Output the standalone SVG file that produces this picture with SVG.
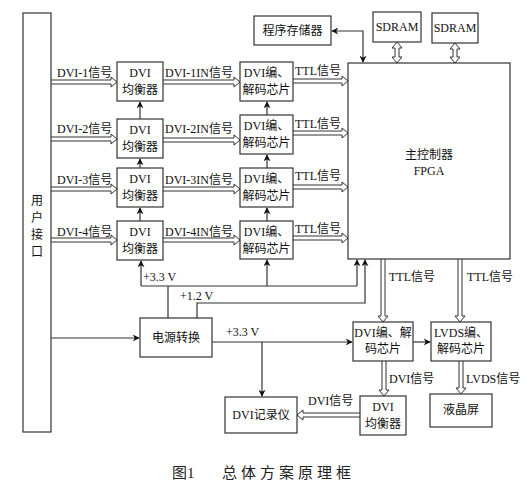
<svg xmlns="http://www.w3.org/2000/svg" width="529" height="492" viewBox="0 0 529 492">
<defs>
<marker id="ah" viewBox="0 0 10 10" refX="9" refY="5" markerWidth="7" markerHeight="7" orient="auto-start-reverse" markerUnits="userSpaceOnUse">
<path d="M0,0 L10,5 L0,10 L3,5 Z" fill="#111"/>
</marker>
</defs>
<style>
.box{fill:#fff;stroke:#333;stroke-width:1.2}
.ln{fill:none;stroke:#333;stroke-width:1.2}
.ha{fill:none;stroke:#333;stroke-width:1}
.hb{fill:#fff;stroke:#333;stroke-width:1}
text{font-family:"Liberation Serif","Noto Sans CJK SC",serif;font-size:12px;fill:#111}
.c{text-anchor:middle}
.cap{font-size:15px;fill:#222}
.sp{letter-spacing:4px}
</style>
<rect width="529" height="492" fill="#fff"/>

<g id="connectors">
<path class="ha" d="M51,80 H111 V77 L117,82 L111,87 V84 H51"/>
<path class="ha" d="M163,80 H234 V77 L240,82 L234,87 V84 H163"/>
<path class="ha" d="M293,79 H342 V76 L348,81 L342,86 V83 H293"/>
<path class="ha" d="M51,137 H111 V134 L117,139 L111,144 V141 H51"/>
<path class="ha" d="M163,138 H234 V135 L240,140 L234,145 V142 H163"/>
<path class="ha" d="M293,131 H342 V128 L348,133 L342,138 V135 H293"/>
<path class="ha" d="M51,187 H111 V184 L117,189 L111,194 V191 H51"/>
<path class="ha" d="M163,187 H234 V184 L240,189 L234,194 V191 H163"/>
<path class="ha" d="M293,185 H342 V182 L348,187 L342,192 V189 H293"/>
<path class="ha" d="M51,238 H111 V235 L117,240 L111,245 V242 H51"/>
<path class="ha" d="M163,238 H234 V235 L240,240 L234,245 V242 H163"/>
<path class="ha" d="M293,236 H342 V233 L348,238 L342,243 V240 H293"/>

<line class="ln" x1="140" y1="119" x2="140" y2="102" marker-end="url(#ah)"/>
<line class="ln" x1="140" y1="168" x2="140" y2="159" marker-end="url(#ah)"/>
<line class="ln" x1="140" y1="221" x2="140" y2="208" marker-end="url(#ah)"/>
<line class="ln" x1="267" y1="115" x2="267" y2="102" marker-end="url(#ah)"/>
<line class="ln" x1="267" y1="168" x2="267" y2="155" marker-end="url(#ah)"/>
<line class="ln" x1="267" y1="221" x2="267" y2="208" marker-end="url(#ah)"/>

<path class="ln" d="M332,31 H363 V62" marker-start="url(#ah)" marker-end="url(#ah)"/>
<path class="hb" d="M395,48 H392 L397,42 L402,48 H399 V57 H402 L397,63 L392,57 H395 Z"/>
<path class="hb" d="M453,49 H450 L455,43 L460,49 H457 V57 H460 L455,63 L450,57 H453 Z"/>

<path class="ln" d="M168,318 V286"/>
<path class="ln" d="M141,286 H357"/>
<line class="ln" x1="141" y1="286" x2="141" y2="261" marker-end="url(#ah)"/>
<line class="ln" x1="267" y1="286" x2="267" y2="260" marker-end="url(#ah)"/>
<path class="ln" d="M357,286 V260" marker-end="url(#ah)"/>
<path class="ln" d="M197,318 V303 H365 V260" marker-end="url(#ah)"/>

<line class="ln" x1="51" y1="338" x2="139" y2="338" marker-end="url(#ah)"/>
<line class="ln" x1="212" y1="342" x2="352" y2="342" marker-end="url(#ah)"/>
<line class="ln" x1="262" y1="342" x2="262" y2="396" marker-end="url(#ah)"/>
<line class="ln" x1="413" y1="342" x2="430" y2="342" marker-end="url(#ah)"/>

<path class="ha" d="M381,259 V316 H378 L383,322 L388,316 H385 V259"/>
<path class="ha" d="M458,259 V316 H455 L460,322 L465,316 H462 V259"/>
<path class="ha" d="M382,361 V390 H379 L384,396 L389,390 H386 V361"/>
<path class="ha" d="M459,361 V388 H456 L461,394 L466,388 H463 V361"/>
<path class="ha" d="M360,413 H303 V410 L297,415 L303,420 V417 H360"/>
</g>

<g id="user-interface">
<rect class="box" x="23" y="13" width="28" height="419"/>
<text class="c" x="37" y="205">用</text>
<text class="c" x="37" y="222">户</text>
<text class="c" x="37" y="239">接</text>
<text class="c" x="37" y="256">口</text>
</g>

<g id="labels">
<text x="57" y="77">DVI-1信号</text>
<text x="57" y="133">DVI-2信号</text>
<text x="57" y="184">DVI-3信号</text>
<text x="57" y="236">DVI-4信号</text>
<text x="165" y="77">DVI-1IN信号</text>
<text x="165" y="133">DVI-2IN信号</text>
<text x="165" y="184">DVI-3IN信号</text>
<text x="165" y="236">DVI-4IN信号</text>
<text x="295" y="75">TTL信号</text>
<text x="295" y="128">TTL信号</text>
<text x="295" y="180">TTL信号</text>
<text x="295" y="233">TTL信号</text>
<text x="143" y="281">+3.3  V</text>
<text x="180" y="300">+1.2  V</text>
<text x="226" y="336">+3.3  V</text>
<text x="389" y="281">TTL信号</text>
<text x="467" y="281">TTL信号</text>
<text x="389" y="383">DVI信号</text>
<text x="466" y="383">LVDS信号</text>
<text x="308" y="405">DVI信号</text>
</g>

<g id="eq1"><rect class="box" x="117" y="62" width="46" height="39"/><text class="c" x="140" y="77">DVI</text><text class="c" x="140" y="94">均衡器</text></g>
<g id="eq2"><rect class="box" x="117" y="119" width="46" height="39"/><text class="c" x="140" y="134">DVI</text><text class="c" x="140" y="151">均衡器</text></g>
<g id="eq3"><rect class="box" x="117" y="168" width="46" height="39"/><text class="c" x="140" y="183">DVI</text><text class="c" x="140" y="200">均衡器</text></g>
<g id="eq4"><rect class="box" x="117" y="221" width="46" height="39"/><text class="c" x="140" y="236">DVI</text><text class="c" x="140" y="253">均衡器</text></g>

<g id="codec1"><rect class="box" x="240" y="62" width="53" height="39"/><text class="c" x="266.5" y="77">DVI编、</text><text class="c" x="266.5" y="94">解码芯片</text></g>
<g id="codec2"><rect class="box" x="240" y="115" width="53" height="39"/><text class="c" x="266.5" y="130">DVI编、</text><text class="c" x="266.5" y="147">解码芯片</text></g>
<g id="codec3"><rect class="box" x="240" y="168" width="53" height="39"/><text class="c" x="266.5" y="183">DVI编、</text><text class="c" x="266.5" y="200">解码芯片</text></g>
<g id="codec4"><rect class="box" x="240" y="221" width="53" height="38"/><text class="c" x="266.5" y="236">DVI编、</text><text class="c" x="266.5" y="253">解码芯片</text></g>

<g id="prog-mem"><rect class="box" x="254" y="16" width="77" height="29"/><text class="c" x="292.5" y="35">程序存储器</text></g>
<g id="sdram1"><rect class="box" x="373" y="12" width="48" height="30"/><text class="c" x="397" y="31">SDRAM</text></g>
<g id="sdram2"><rect class="box" x="432" y="13" width="46" height="30"/><text class="c" x="455" y="32">SDRAM</text></g>

<g id="fpga"><rect class="box" x="348" y="63" width="162" height="196"/><text class="c" x="429" y="159">主控制器</text><text class="c" x="429" y="175">FPGA</text></g>

<g id="power"><rect class="box" x="140" y="318" width="72" height="39"/><text class="c" x="176" y="342">电源转换</text></g>
<g id="dvi-codec-out"><rect class="box" x="353" y="322" width="60" height="39"/><text class="c" x="383" y="337">DVI编、解</text><text class="c" x="383" y="353">码芯片</text></g>
<g id="lvds-codec"><rect class="box" x="431" y="322" width="60" height="39"/><text class="c" x="461" y="337">LVDS编、</text><text class="c" x="461" y="353">解码芯片</text></g>
<g id="lcd"><rect class="box" x="430" y="394" width="62" height="33"/><text class="c" x="461" y="414">液晶屏</text></g>
<g id="eq-out"><rect class="box" x="360" y="396" width="46" height="39"/><text class="c" x="383" y="411">DVI</text><text class="c" x="383" y="428">均衡器</text></g>
<g id="recorder"><rect class="box" x="225" y="397" width="72" height="36"/><text class="c" x="261" y="419">DVI记录仪</text></g>

<g id="caption">
<text class="cap" x="172" y="478">图1</text>
<text class="cap sp" x="222" y="478">总体方案原理框</text>
</g>
</svg>
